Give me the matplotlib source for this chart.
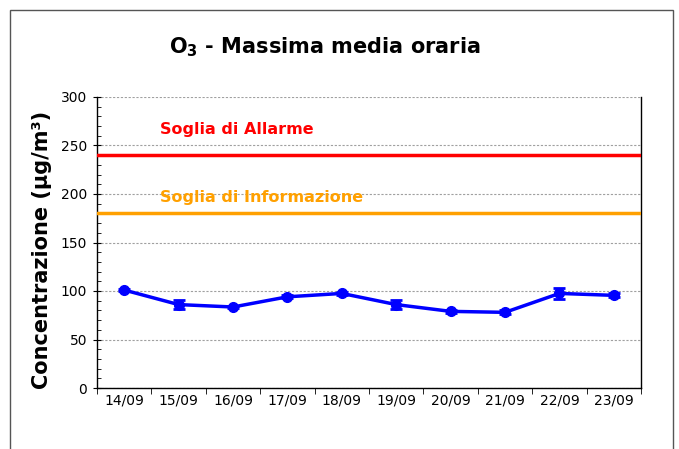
import matplotlib
matplotlib.use("Agg")
import matplotlib.pyplot as plt
from matplotlib.patches import Rectangle
import numpy as np

dates = ["14/09", "15/09", "16/09", "17/09", "18/09", "19/09", "20/09", "21/09", "22/09", "23/09"]
values = [101, 86, 83.5, 94, 97.5, 86, 79, 78, 97.5, 95.5]
errors = [1.5, 5, 1.5, 1.5, 1.5, 5, 1.5, 2, 6, 2]
soglia_allarme = 240
soglia_informazione = 180

plt.rcParams['font.family'] = ['DejaVu Sans']

fig = plt.figure(figsize=(6.79, 4.49), dpi=100)
# outer frame
fig.patches.append(Rectangle((10/679, -0.1), (673-10)/679, 1.1 - 10/449,
                             transform=fig.transFigure, fill=False,
                             edgecolor='#555555', linewidth=1.0))

ax = fig.add_axes([97/679, 1-388/449, (641-97)/679, (388-97)/449])

x = np.arange(len(dates))
ax.axhline(soglia_allarme, color='#ff0000', linewidth=2.5, zorder=3)
ax.axhline(soglia_informazione, color='#ffa000', linewidth=2.5, zorder=3)
ax.errorbar(x, values, yerr=errors, color='#0000ff', linewidth=2.5,
            marker='o', markersize=7, capsize=4, capthick=2, elinewidth=2, zorder=4)

ax.text(0.66, 267, "Soglia di Allarme", color='#ff0000', fontsize=11.5,
        fontweight='bold', va='center', ha='left')
ax.text(0.66, 196, "Soglia di Informazione", color='#ffa000', fontsize=11.5,
        fontweight='bold', va='center', ha='left')

ax.set_xlim(-0.5, len(dates) - 0.5)
ax.set_ylim(0, 300)
ax.set_yticks(np.arange(0, 301, 50))
ax.set_yticks(np.arange(0, 301, 10), minor=True)
ax.yaxis.grid(True, which='major', linestyle=(0, (2, 1.5)), color='#a0a0a0', linewidth=0.8)
ax.set_axisbelow(True)

ax.set_xticks(x)
ax.set_xticklabels(dates)
ax.set_xticks(np.arange(-0.5, len(dates), 1), minor=True)
ax.tick_params(axis='x', which='major', length=0, labelsize=10, pad=4)
ax.tick_params(axis='x', which='minor', length=4, direction='out', color='black')
ax.tick_params(axis='y', which='major', length=6, direction='inout', labelsize=10, pad=4)
ax.tick_params(axis='y', which='minor', length=3, direction='in')

ax.spines['top'].set_visible(False)
for s in ['left', 'bottom', 'right']:
    ax.spines[s].set_color('black')
    ax.spines[s].set_linewidth(1)

fig.text(42/679, 1-250/449, "Concentrazione (µg/m³)", fontsize=15, fontweight='bold',
         rotation=90, ha='center', va='center')

fig.text(325/679, 1-47/449, r"O$_\mathbf{3}$ - Massima media oraria", fontsize=15,
         fontweight='bold', ha='center', va='center')

fig.savefig("out.png", dpi=100)
